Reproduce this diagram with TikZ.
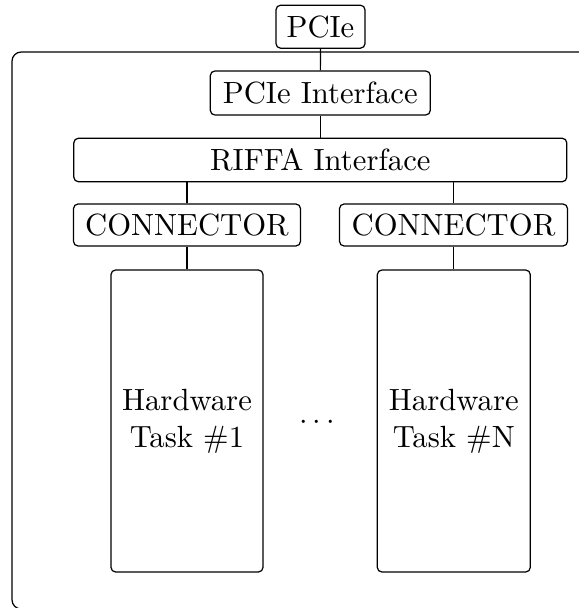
\documentclass[tikz,border=0pt]{standalone}
\begin{document}
\begin{tikzpicture}[x=0.326pt,y=-0.326pt,
  blk/.style={draw,rounded corners=1.5pt,inner sep=0pt,align=center},
  link/.style={draw}]
\useasboundingbox (0,0) rectangle (579,608);
\draw[rounded corners=3pt] (640,52) -- (12,52) -- (12,609) -- (640,609);
\node[blk,minimum width=89*0.326pt,minimum height=43*0.326pt] (pcie) at (320.5,26.7) {PCIe};
\node[blk,minimum width=220*0.326pt,minimum height=44*0.326pt] (pif) at (320.3,93) {PCIe Interface};
\node[blk,minimum width=493*0.326pt,minimum height=43.5*0.326pt] (riffa) at (320.3,160) {RIFFA Interface};
\node[blk,minimum width=227*0.326pt,minimum height=42*0.326pt] (c1) at (187,225) {CONNECTOR};
\node[blk,minimum width=228*0.326pt,minimum height=42*0.326pt] (c2) at (453.5,225) {CONNECTOR};
\node[blk,minimum width=152*0.326pt,minimum height=302*0.326pt] (h1) at (187,421) {Hardware\\Task \#1};
\node[blk,minimum width=153*0.326pt,minimum height=302*0.326pt] (h2) at (453.8,421) {Hardware\\Task \#N};
\node[inner sep=0pt] (dots) at (317,423) {$\cdots$};
\draw[link] (pcie) -- (pif);
\draw[link] (pif) -- (riffa);
\draw[link] (riffa.south -| c1) -- (c1);
\draw[link] (riffa.south -| c2) -- (c2);
\draw[link] (c1) -- (c1 |- h1.north);
\draw[link] (c2) -- (c2 |- h2.north);
\end{tikzpicture}
\end{document}
